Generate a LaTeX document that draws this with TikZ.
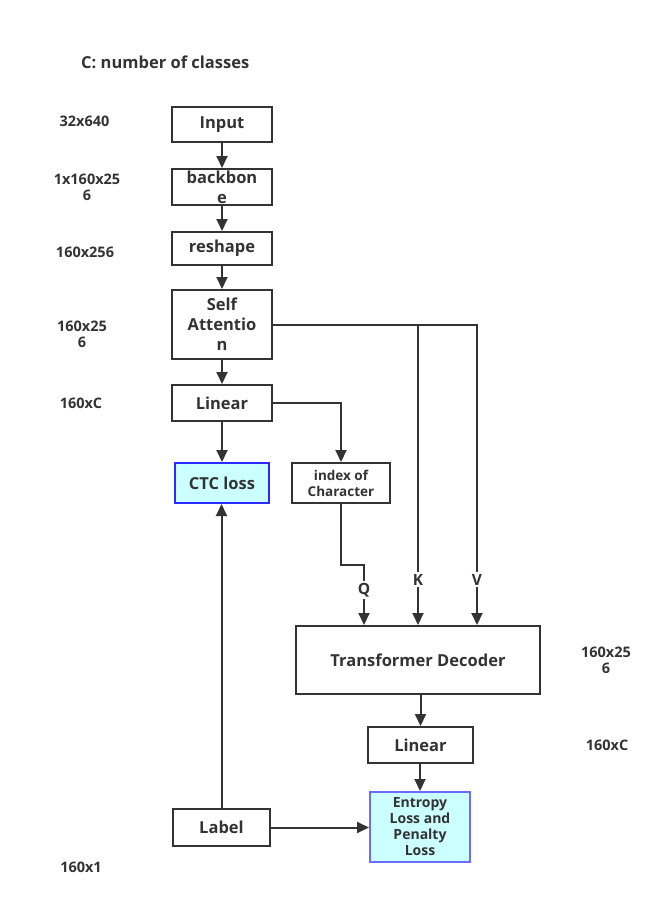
\documentclass[tikz,border=0pt]{standalone}
\usepackage{fontspec}
\setmainfont{Open Sans}
\usetikzlibrary{arrows.meta}
\definecolor{ink}{HTML}{333333}
\definecolor{cyanfill}{HTML}{CCFFFF}
\definecolor{blueedge}{HTML}{2B2BFF}
\definecolor{lightblueedge}{HTML}{6B6BFF}
\begin{document}
\begin{tikzpicture}[x=1pt,y=-1pt,
 box/.style={draw=ink, line width=2pt, fill=white, text=ink, font=\bfseries\fontsize{16.5}{20}\selectfont, inner sep=0pt, align=center},
 lossbox/.style={box, fill=cyanfill},
 dim/.style={text=ink, font=\bfseries\fontsize{14.5}{16}\selectfont, align=center, inner sep=0pt},
 conn/.style={draw=ink, line width=2pt},
 arr/.style={conn, -{Triangle[length=12pt,width=11pt]}},
 tag/.style={fill=white, text=ink, font=\bfseries\fontsize{15.5}{16}\selectfont, inner sep=2pt}
]
\useasboundingbox (0,0) rectangle (669,915);
% boxes
\node[box, minimum width=100pt, minimum height=35pt] (input) at (222,124.5) {Input};
\node[box, minimum width=100pt, minimum height=36pt, font=\bfseries\fontsize{16.5}{20}\selectfont] (backbone) at (222,187) {backbon\\e};
\node[box, minimum width=100pt, minimum height=33pt] (reshape) at (222,248.5) {reshape};
\node[box, minimum width=100pt, minimum height=69pt] (sa) at (222,324.5) {Self\\Attentio\\n};
\node[box, minimum width=100pt, minimum height=36pt] (lin) at (222,403) {Linear};
\node[lossbox, draw=blueedge, minimum width=94pt, minimum height=40pt] (ctc) at (222,483) {CTC loss};
\node[box, minimum width=98pt, minimum height=40pt, font=\bfseries\fontsize{13.5}{16}\selectfont] (index) at (341,483) {index of\\Character};
\node[box, minimum width=244pt, minimum height=68pt] (dec) at (418,660) {Transformer Decoder};
\node[box, minimum width=105pt, minimum height=36pt] (lin2) at (420.5,745) {Linear};
\node[lossbox, draw=lightblueedge, minimum width=100pt, minimum height=70pt, font=\bfseries\fontsize{14}{16}\selectfont] (ent) at (420,827) {Entropy\\Loss and\\Penalty\\Loss};
\node[box, minimum width=97pt, minimum height=37pt] (label) at (221.5,827.5) {Label};
% side labels
\node[dim, anchor=west, font=\bfseries\fontsize{16.5}{18}\selectfont] (title) at (81,62) {C: number of classes};
\node[dim] (d1) at (84.5,121) {32x640};
\node[dim] (d2) at (87,187) {1x160x25\\6};
\node[dim] (d3) at (85,252) {160x256};
\node[dim] (d4) at (82,334) {160x25\\6};
\node[dim] (d5) at (81,403) {160xC};
\node[dim] (d6) at (81,867) {160x1};
\node[dim] (d7) at (606,660) {160x25\\6};
\node[dim] (d8) at (607,745) {160xC};
% connectors
\draw[arr] (input) -- (backbone);
\draw[arr] (backbone) -- (reshape);
\draw[arr] (reshape) -- (sa);
\draw[arr] (sa) -- (lin);
\draw[arr] (lin) -- (ctc);
\draw[arr] (lin.east) -| (index.north);
\coordinate (ktop) at (418,324.5);
\coordinate (vtop) at (477,324.5);
\draw[conn] (sa.east) -- (ktop);
\draw[arr] (sa.east) -| node[tag, pos=0.925] {V} (dec.north -| vtop);
\draw[arr] (ktop) -- node[tag, pos=0.85] {K} (dec.north -| ktop);
\coordinate (qk) at (364,565);
\draw[arr] (index.south) |- (qk) -- node[tag, pos=0.42] {Q} (dec.north -| qk);
\draw[arr] (dec.south -| lin2) -- (lin2);
\draw[arr] (lin2.south -| ent) -- (ent);
\draw[arr] (label.north) -- (label.north |- ctc.south);
\draw[arr] (label.east) -- (label.east -| ent.west);
\end{tikzpicture}
\end{document}
